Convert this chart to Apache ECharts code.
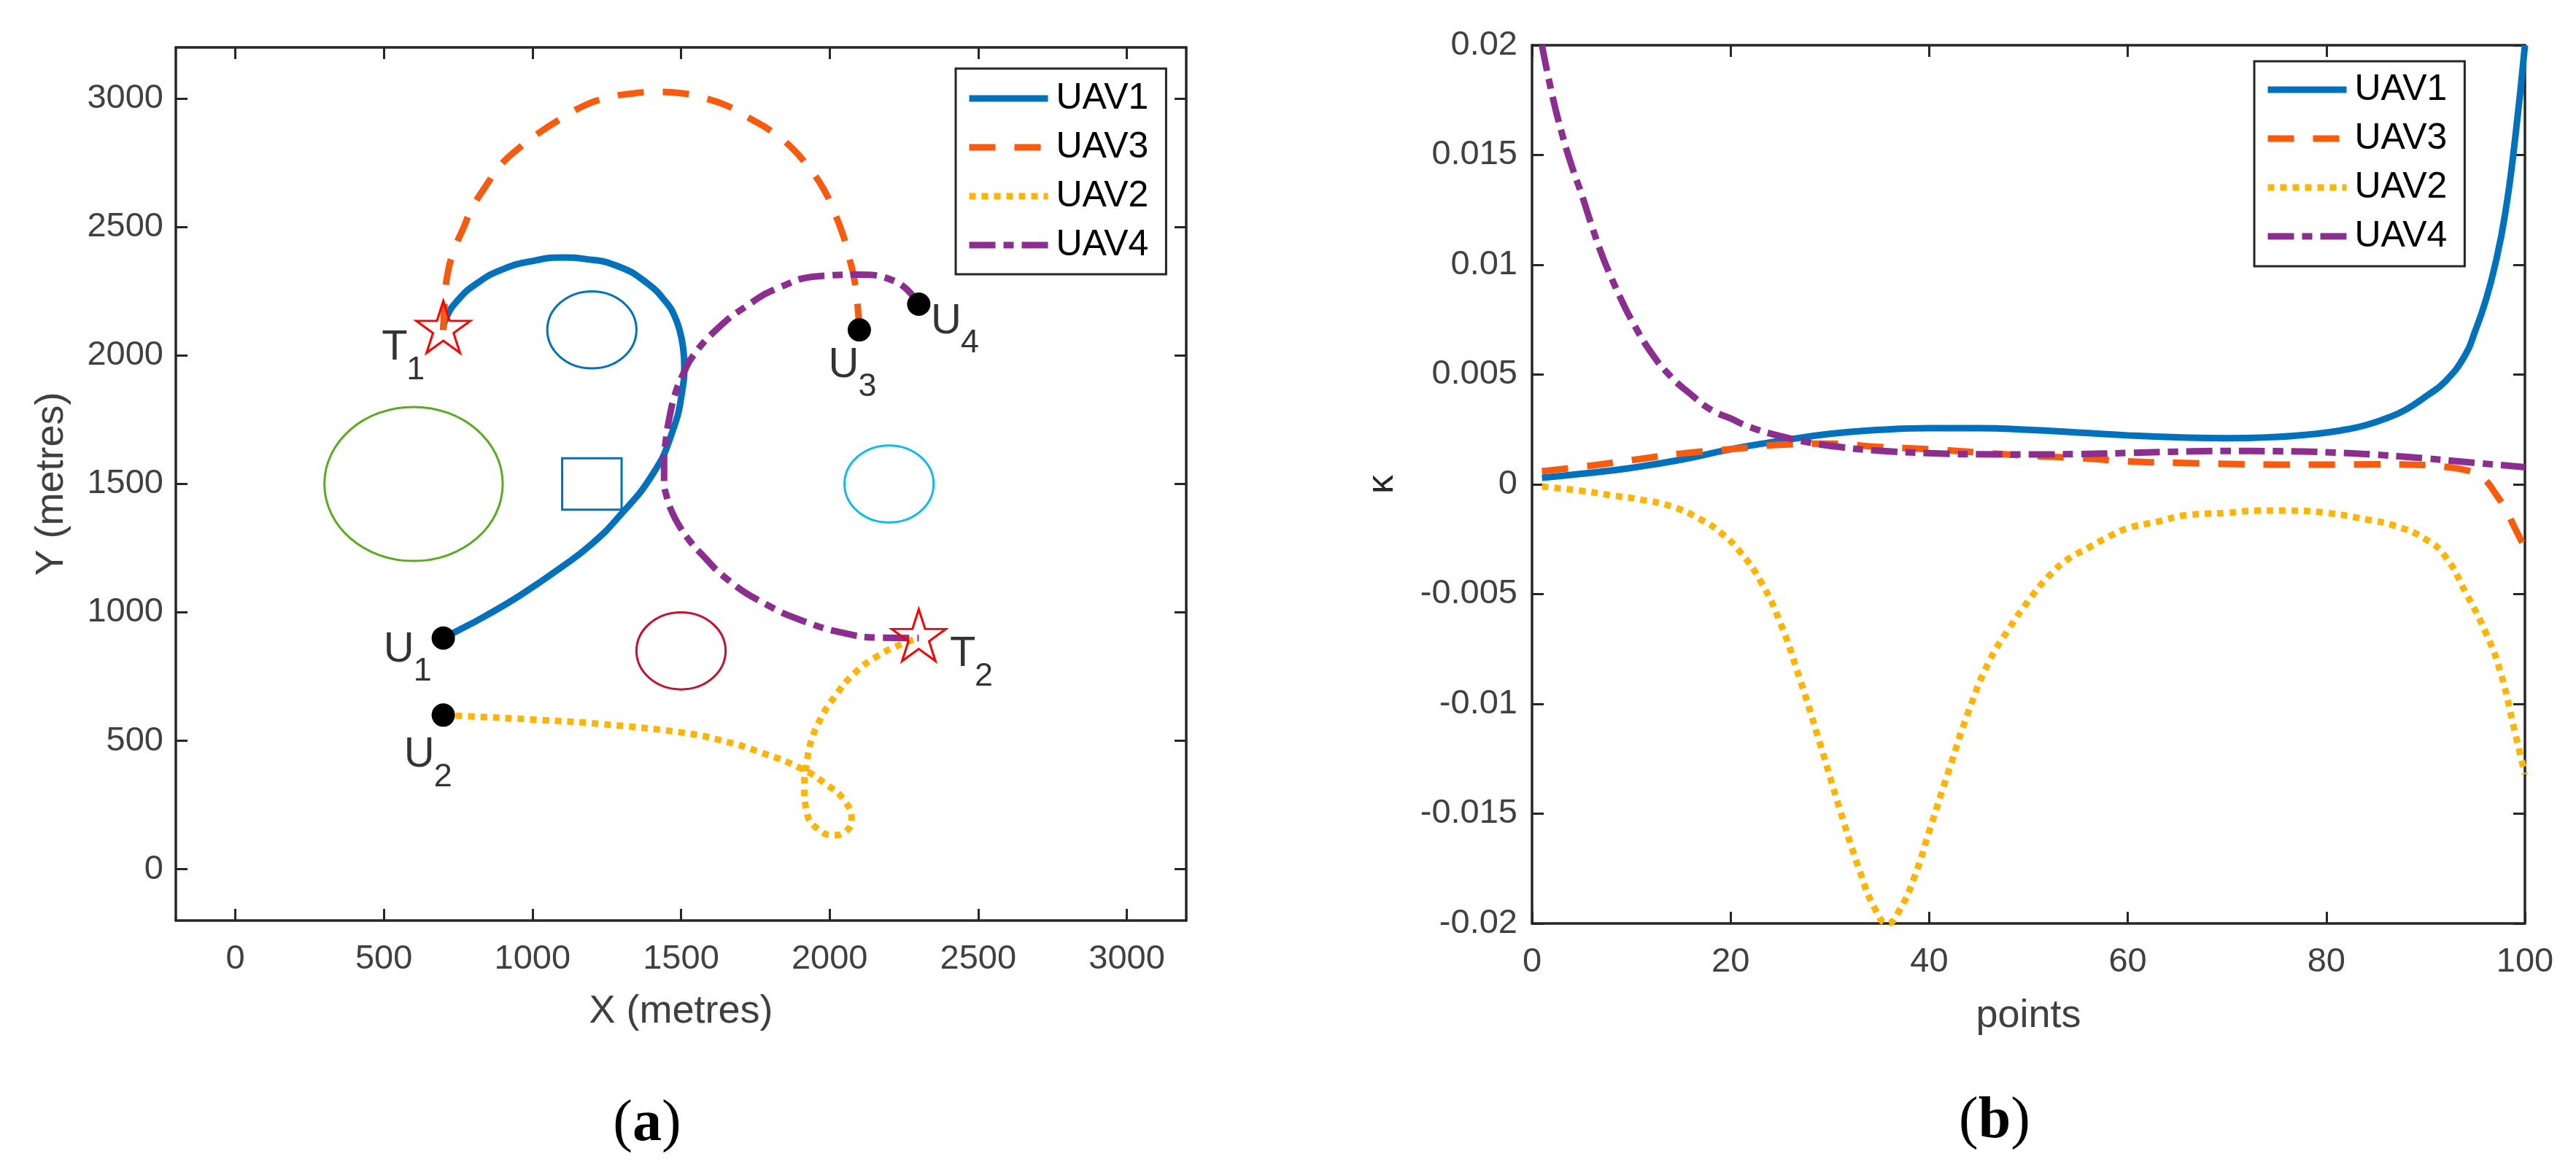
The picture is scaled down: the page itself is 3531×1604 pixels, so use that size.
<!DOCTYPE html>
<html>
<head>
<meta charset="utf-8">
<script src="https://cdn.jsdelivr.net/npm/echarts@6/dist/echarts.min.js"></script>
<style>
  html, body { margin: 0; padding: 0; background: #fff; }
  #main { width: 3531px; height: 1604px; }
</style>
</head>
<body>
<div id="main"></div>
<script>
// ---- (a) planned paths, metres ----
const uav1Path = [[700,900],[736,921],[840,985],[957,1065],[1100,1178],[1200,1267],[1288,1369],[1404,1537],[1470,1700],[1505,1870],[1511,1960],[1507,2030],[1495,2100],[1476,2160],[1454,2202],[1387,2281],[1288,2348],[1178,2376],[1100,2382],[1012,2371],[902,2337],[813,2281],[747,2213],[709,2146],[700,2100]];
const uav3Path = [[700,2100],[705,2210],[714,2315],[736,2410],[769,2500],[797,2575],[846,2665],[891,2740],[962,2815],[1023,2868],[1100,2925],[1172,2972],[1249,3003],[1332,3020],[1420,3027],[1500,3022],[1580,3002],[1657,2972],[1735,2921],[1801,2876],[1873,2809],[1923,2742],[1978,2652],[2015,2560],[2045,2470],[2065,2385],[2083,2298],[2094,2197],[2100,2100]];
const uav2Path = [[700,600],[791,595],[1012,582],[1233,565],[1509,531],[1630,503],[1773,453],[1906,391],[1983,335],[2050,267],[2074,189],[2050,144],[2017,133],[1962,155],[1923,222],[1915,324],[1923,413],[1939,503],[1973,593],[2017,672],[2083,762],[2160,829],[2249,880],[2300,900]];
const uav4Path = [[2300,2200],[2215,2292],[2094,2315],[1961,2309],[1829,2264],[1718,2191],[1619,2101],[1541,2000],[1509,1933],[1480,1850],[1462,1764],[1450,1680],[1443,1590],[1443,1510],[1452,1450],[1470,1390],[1495,1335],[1525,1285],[1563,1234],[1663,1122],[1785,1032],[1917,964],[2050,919],[2160,902],[2300,900]];

const startX = [700, 700, 2100, 2300];
const startY = [900, 600, 2100, 2200];
const targetX = [700, 2300];
const targetY = [2100, 900];

// obstacles: circles (centre x, centre y, radius) and one square (x0, y0, x1, y1)
const circleX = [600, 1200, 2200, 1500];
const circleY = [1500, 2100, 1500, 850];
const circleR = [300, 150, 150, 150];
const squareBox = [[1100, 1400, 1300, 1600]];

// point labels: letter, subscript, anchor in data coords
const labelMain = ['T', 'U', 'U', 'U', 'U', 'T'];
const labelSub = ['1', '1', '2', '3', '4', '2'];
const labelX = [493, 499, 568, 1996, 2341, 2405];
const labelY = [2029, 854, 444, 1962, 2132, 836];

// ---- (b) curvature along the path ----
const kappaUav1 = [[1,0.0003],[5,0.00048],[10,0.00075],[15,0.00112],[20,0.0016],[25,0.00198],[30,0.0023],[35,0.00248],[40,0.00256],[45,0.00256],[50,0.00248],[55,0.00236],[60,0.00223],[65,0.00214],[70,0.0021],[75,0.00216],[78,0.00226],[80,0.00236],[82,0.0025],[84,0.0027],[86,0.003],[88,0.0034],[90,0.004],[92,0.0047],[94,0.0059],[95,0.007],[96,0.0083],[97,0.01],[98,0.0123],[99,0.0157],[100,0.02]];
const kappaUav3 = [[1,0.0006],[5,0.0008],[10,0.0011],[15,0.0014],[20,0.0016],[25,0.0018],[30,0.00185],[35,0.0017],[40,0.0016],[45,0.00145],[50,0.0013],[55,0.0012],[60,0.00105],[65,0.00098],[70,0.00093],[75,0.0009],[80,0.0009],[85,0.00091],[90,0.00088],[92,0.0008],[94,0.00065],[95,0.0005],[96,0.0002],[97,-0.0004],[98,-0.0011],[99,-0.002],[100,-0.0029]];
const kappaUav2 = [[1,-0.0001],[5,-0.0003],[8,-0.0005],[11,-0.0007],[14,-0.001],[17,-0.0016],[19,-0.0022],[21,-0.0031],[23,-0.0044],[25,-0.0063],[27,-0.0089],[29,-0.0118],[31,-0.0148],[33,-0.0176],[34.5,-0.0193],[35.8,-0.02],[37,-0.0194],[38.5,-0.0179],[40,-0.0158],[42,-0.013],[44,-0.0103],[46,-0.0081],[48,-0.0066],[50,-0.0053],[52,-0.0042],[54,-0.0034],[56,-0.0029],[58,-0.0024],[60,-0.002],[63,-0.0017],[66,-0.0014],[70,-0.0013],[73,-0.0012],[76,-0.0012],[80,-0.0013],[84,-0.0016],[87,-0.0019],[90,-0.0025],[92,-0.0033],[94,-0.0049],[96,-0.0067],[97.5,-0.0085],[99,-0.0113],[100,-0.0132]];
const kappaUav4 = [[1,0.02],[2,0.0178],[3,0.016],[4,0.0145],[5,0.0132],[6,0.0118],[7,0.0105],[8,0.0094],[9,0.0084],[10,0.0075],[12,0.006],[14,0.0049],[16,0.0041],[18,0.0034],[20,0.003],[22,0.0026],[25,0.0022],[28,0.0019],[31,0.0017],[35,0.00153],[40,0.00142],[45,0.00137],[50,0.00136],[55,0.00138],[60,0.00143],[65,0.00149],[70,0.00152],[75,0.00151],[80,0.00146],[85,0.00135],[90,0.00118],[95,0.00098],[100,0.00078]];

const legendOrder = ['UAV1', 'UAV3', 'UAV2', 'UAV4'];
const xyTicks = [0, 500, 1000, 1500, 2000, 2500, 3000];
const pointTicks = [0, 20, 40, 60, 80, 100];
const kappaTicks = [-0.02, -0.015, -0.01, -0.005, 0, 0.005, 0.01, 0.015, 0.02];
const kappaTickLabels = ['-0.02', '-0.015', '-0.01', '-0.005', '0', '0.005', '0.01', '0.015', '0.02'];

const FONT = 'Arial, "Liberation Sans", Helvetica, sans-serif';
const SERIF = '"Times New Roman", "Liberation Serif", serif';
const uavStyle = {
  UAV1: { color: '#0072bd', dash: 'solid' },
  UAV2: { color: '#ffb406', dash: [9, 8] },
  UAV3: { color: '#fa5a0c', dash: [36, 26] },
  UAV4: { color: '#8c2e90', dash: [36, 11, 14, 11] }
};
const obstacleColors = ['#5aaa1e', '#0072bd', '#0cbcee', '#c4122f'];
const STAR = 'path://M50,0L61.23,34.55L97.55,34.55L68.17,55.9L79.39,90.45L50,69.1L20.61,90.45L31.83,55.9L2.45,34.55L38.77,34.55Z';

const chart = echarts.init(document.getElementById('main'), null, { renderer: 'canvas' });

const lineAx = { show: true, onZero: false, lineStyle: { color: '#262626', width: 3.5 } };
const tickLine = { color: '#262626', width: 3 };
const tickText = { fontSize: 47, color: '#404040', fontFamily: FONT };
const nameText = { fontSize: 54, color: '#404040', fontFamily: FONT };

function axis(grid, pos, min, max, ticks, withLabels, fmt, margin) {
  return {
    type: 'value', gridIndex: grid, position: pos, min: min, max: max,
    axisLine: lineAx,
    axisTick: { show: true, inside: true, length: 16, lineStyle: tickLine, customValues: ticks },
    axisLabel: withLabels
      ? Object.assign({ show: true, margin: margin, customValues: ticks, formatter: fmt }, tickText)
      : { show: false },
    splitLine: { show: false }
  };
}

function path(name, data, xi, yi) {
  const st = uavStyle[name];
  return {
    type: 'line', name: name, xAxisIndex: xi, yAxisIndex: yi, data: data,
    symbol: 'none', showSymbol: false, z: 3, smooth: 0.5,
    lineStyle: { color: st.color, width: 9, type: st.dash, cap: 'butt', join: 'round' },
    itemStyle: { color: st.color }
  };
}

function legendAt(left, top, padTop, padBottom) {
  return {
    data: legendOrder, orient: 'vertical', left: left, top: top,
    itemWidth: 108, itemHeight: 14, itemGap: 17,
    padding: [padTop, 24, padBottom, 14],
    borderColor: '#262626', borderWidth: 3, backgroundColor: '#fff',
    selectedMode: false,
    lineStyle: { width: 9, cap: 'butt' },
    itemStyle: { opacity: 0 },
    textStyle: { fontSize: 50, color: '#000', fontFamily: FONT, padding: [0, 0, 0, 6] }
  };
}

const str = v => String(v);
const kappaFmt = v => {
  const i = kappaTicks.findIndex(t => Math.abs(t - v) < 1e-9);
  return i >= 0 ? kappaTickLabels[i] : String(v);
};

const xAxes = [
  Object.assign(axis(0, 'bottom', -200, 3200, xyTicks, true, str, 30),
    { name: 'X (metres)', nameLocation: 'middle', nameGap: 98, nameTextStyle: nameText }),
  axis(0, 'top', -200, 3200, xyTicks, false),
  Object.assign(axis(1, 'bottom', 0, 100, pointTicks, true, str, 30),
    { name: 'points', nameLocation: 'middle', nameGap: 100, nameTextStyle: nameText }),
  axis(1, 'top', 0, 100, pointTicks, false)
];
const yAxes = [
  Object.assign(axis(0, 'left', -200, 3200, xyTicks, true, str, 17),
    { name: 'Y (metres)', nameLocation: 'middle', nameGap: 143, nameTextStyle: nameText }),
  axis(0, 'right', -200, 3200, xyTicks, false),
  Object.assign(axis(1, 'left', -0.02, 0.02, kappaTicks, true, kappaFmt, 20),
    { name: 'κ', nameLocation: 'middle', nameGap: 179,
      nameTextStyle: { fontSize: 52, color: '#262626', fontFamily: FONT } }),
  axis(1, 'right', -0.02, 0.02, kappaTicks, false)
];

const series = [
  {
    type: 'custom', name: 'circles', xAxisIndex: 0, yAxisIndex: 0, z: 2,
    data: circleX.map((x, i) => [x, circleY[i], circleR[i]]),
    encode: { x: 0, y: 1 },
    renderItem: function (params, api) {
      const c = api.coord([api.value(0), api.value(1)]);
      const s = api.size([api.value(2), api.value(2)]);
      return {
        type: 'ellipse',
        shape: { cx: c[0], cy: c[1], rx: s[0], ry: s[1] },
        style: { fill: 'none', stroke: obstacleColors[params.dataIndex], lineWidth: 3 }
      };
    }
  },
  {
    type: 'custom', name: 'square', xAxisIndex: 0, yAxisIndex: 0, z: 2,
    data: squareBox,
    encode: { x: [0, 2], y: [1, 3] },
    renderItem: function (params, api) {
      const p0 = api.coord([api.value(0), api.value(3)]);
      const p1 = api.coord([api.value(2), api.value(1)]);
      return {
        type: 'rect',
        shape: { x: p0[0], y: p0[1], width: p1[0] - p0[0], height: p1[1] - p0[1] },
        style: { fill: 'none', stroke: '#0072bd', lineWidth: 3 }
      };
    }
  },
  path('UAV1', uav1Path, 0, 0),
  path('UAV3', uav3Path, 0, 0),
  path('UAV2', uav2Path, 0, 0),
  path('UAV4', uav4Path, 0, 0),
  {
    type: 'scatter', name: 'starts', xAxisIndex: 0, yAxisIndex: 0, z: 6,
    data: startX.map((x, i) => [x, startY[i]]),
    symbol: 'circle', symbolSize: 32, itemStyle: { color: '#000', opacity: 1 }
  },
  {
    type: 'scatter', name: 'targets', xAxisIndex: 0, yAxisIndex: 0, z: 7,
    data: targetX.map((x, i) => [x, targetY[i]]),
    symbol: STAR, symbolSize: [74, 71], symbolOffset: [0, -4],
    itemStyle: { color: 'rgba(255,255,255,0)', borderColor: '#ff0000', borderWidth: 3, opacity: 1 }
  },
  {
    type: 'scatter', name: 'labelMain', xAxisIndex: 0, yAxisIndex: 0, z: 8,
    data: labelX.map((x, i) => [x, labelY[i]]),
    symbolSize: 0.1, itemStyle: { color: 'rgba(0,0,0,0)' },
    label: {
      show: true, position: [0, 0], align: 'left', verticalAlign: 'middle',
      formatter: p => labelMain[p.dataIndex],
      fontSize: 58, color: '#000', fontFamily: FONT
    }
  },
  {
    type: 'scatter', name: 'labelSub', xAxisIndex: 0, yAxisIndex: 0, z: 8,
    data: labelX.map((x, i) => ({
      value: [x, labelY[i]],
      label: { offset: [labelMain[i] === 'T' ? 34 : 41, 30] }
    })),
    symbolSize: 0.1, itemStyle: { color: 'rgba(0,0,0,0)' },
    label: {
      show: true, position: [0, 0], align: 'left', verticalAlign: 'middle',
      formatter: p => labelSub[p.dataIndex],
      fontSize: 45, color: '#000', fontFamily: FONT
    }
  },
  path('UAV1', kappaUav1, 2, 2),
  path('UAV3', kappaUav3, 2, 2),
  path('UAV2', kappaUav2, 2, 2),
  path('UAV4', kappaUav4, 2, 2)
];

const option = {
  animation: false,
  backgroundColor: '#fff',
  grid: [
    { left: 241, top: 65, width: 1385, height: 1197, show: false, outerBoundsMode: 'none' },
    { left: 2100, top: 62, width: 1361, height: 1204, show: false, outerBoundsMode: 'none' }
  ],
  xAxis: xAxes,
  yAxis: yAxes,
  legend: [legendAt(1310, 94, 16, 15), legendAt(3090, 84, 14, 16)],
  graphic: [
    {
      type: 'text', x: 887, y: 1542,
      style: {
        text: '{p|(}{b|a}{p|)}', align: 'center', verticalAlign: 'middle',
        rich: {
          p: { fontFamily: SERIF, fontSize: 80, fill: '#000' },
          b: { fontFamily: SERIF, fontSize: 80, fontWeight: 'bold', fill: '#000' }
        }
      }
    },
    {
      type: 'text', x: 2734, y: 1538,
      style: {
        text: '{p|(}{b|b}{p|)}', align: 'center', verticalAlign: 'middle',
        rich: {
          p: { fontFamily: SERIF, fontSize: 80, fill: '#000' },
          b: { fontFamily: SERIF, fontSize: 80, fontWeight: 'bold', fill: '#000' }
        }
      }
    }
  ],
  series: series
};

chart.setOption(option);
</script>
</body>
</html>
